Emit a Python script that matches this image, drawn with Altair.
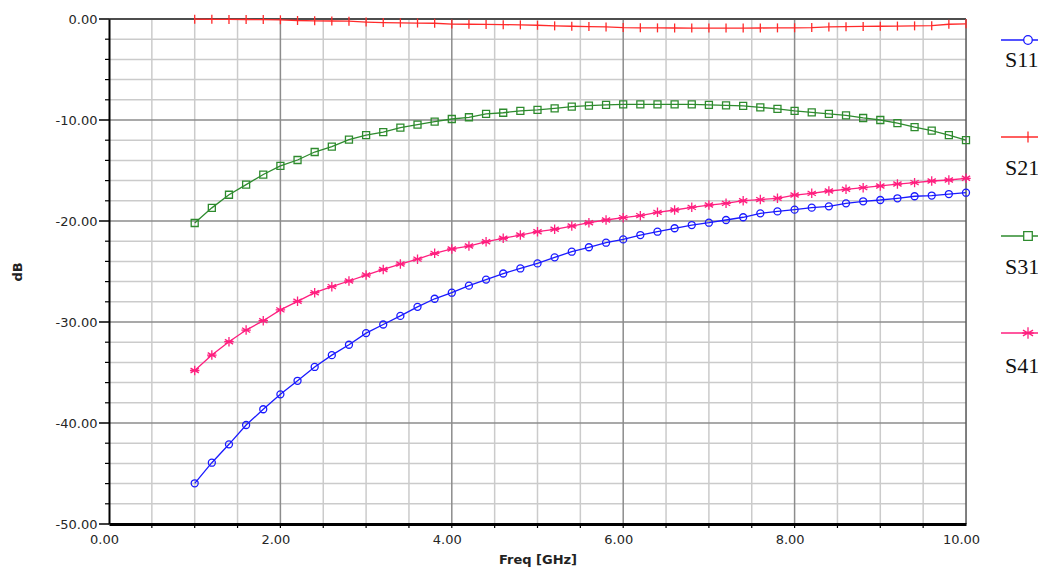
import altair as alt
import pandas as pd

# ---------------- data ----------------
freq = [1.0, 1.2, 1.4, 1.6, 1.8, 2.0, 2.2, 2.4, 2.6, 2.8,
        3.0, 3.2, 3.4, 3.6, 3.8, 4.0, 4.2, 4.4, 4.6, 4.8,
        5.0, 5.2, 5.4, 5.6, 5.8, 6.0, 6.2, 6.4, 6.6, 6.8,
        7.0, 7.2, 7.4, 7.6, 7.8, 8.0, 8.2, 8.4, 8.6, 8.8,
        9.0, 9.2, 9.4, 9.6, 9.8, 10.0]

s11 = [-45.97, -43.93, -42.11, -40.20, -38.64, -37.16, -35.82, -34.45, -33.28, -32.25,
       -31.10, -30.25, -29.40, -28.50, -27.70, -27.10, -26.40, -25.80, -25.20, -24.70,
       -24.20, -23.60, -23.04, -22.60, -22.15, -21.82, -21.39, -21.06, -20.72, -20.40,
       -20.17, -19.90, -19.63, -19.24, -19.05, -18.88, -18.68, -18.55, -18.25, -18.05,
       -17.92, -17.75, -17.55, -17.48, -17.33, -17.20]

s21 = [-0.02, -0.03, -0.04, -0.05, -0.06, -0.08, -0.15, -0.18, -0.20, -0.22,
       -0.30, -0.35, -0.38, -0.40, -0.42, -0.50, -0.52, -0.54, -0.56, -0.58,
       -0.62, -0.68, -0.72, -0.75, -0.78, -0.85, -0.87, -0.88, -0.89, -0.90,
       -0.90, -0.90, -0.90, -0.89, -0.88, -0.87, -0.85, -0.78, -0.76, -0.74,
       -0.72, -0.70, -0.68, -0.66, -0.52, -0.48]

s31 = [-20.20, -18.70, -17.40, -16.40, -15.40, -14.55, -13.96, -13.17, -12.64, -11.95,
       -11.49, -11.20, -10.76, -10.46, -10.17, -9.90, -9.73, -9.40, -9.28, -9.10,
       -9.00, -8.84, -8.67, -8.58, -8.50, -8.45, -8.45, -8.45, -8.45, -8.45,
       -8.50, -8.55, -8.60, -8.75, -8.90, -9.10, -9.25, -9.40, -9.55, -9.80,
       -10.00, -10.30, -10.70, -11.05, -11.50, -12.00]

s41 = [-34.80, -33.27, -31.95, -30.80, -29.87, -28.80, -27.95, -27.10, -26.50, -25.94,
       -25.35, -24.80, -24.26, -23.78, -23.20, -22.77, -22.48, -22.05, -21.71, -21.39,
       -21.06, -20.82, -20.50, -20.17, -19.90, -19.67, -19.47, -19.14, -18.91, -18.65,
       -18.42, -18.25, -17.99, -17.88, -17.75, -17.43, -17.26, -17.03, -16.86, -16.70,
       -16.53, -16.34, -16.20, -16.04, -15.94, -15.77]

series_names = ["S11", "S21", "S31", "S41"]
series_values = [s11, s21, s31, s41]
series_colors = ["#1a1aff", "#ff2a2a", "#2e8b2e", "#ff1f7f"]

x_label_values = [0, 2, 4, 6, 8, 10]
y_label_values = [0, -10, -20, -30, -40, -50]
x_major_grid = [2, 4, 6, 8]
x_minor_grid = [0.5, 1, 1.5, 2.5, 3, 3.5, 4.5, 5, 5.5, 6.5, 7, 7.5, 8.5, 9, 9.5]
y_major_grid = [-10, -20, -30, -40]
y_minor_grid = [-2, -4, -6, -8, -12, -14, -16, -18, -22, -24, -26, -28,
                -32, -34, -36, -38, -42, -44, -46, -48]
x_tick_values = [0.5, 1, 1.5, 2, 2.5, 3, 3.5, 4, 4.5, 5, 5.5, 6, 6.5, 7, 7.5, 8,
                 8.5, 9, 9.5]

# ---------------- layout ----------------
W, H = 857, 505
FONT = "DejaVu Sans"

xs = alt.Scale(domain=[0, 10], nice=False, zero=False)
ys = alt.Scale(domain=[-50, 0], nice=False, zero=False)

label_expr = "replace(format(datum.value, '.2f'), '\u2212', '-')"

x_axis = alt.Axis(values=x_label_values, labelExpr=label_expr, ticks=False, tickSize=0,
                  grid=False, domain=True, domainColor="#000000", domainWidth=3,
                  labelPadding=9, labelOffset=-5, labelFlush=False, labelFont=FONT,
                  labelFontSize=13, labelColor="#262626", title="Freq [GHz]",
                  titleFont=FONT, titleFontSize=13, titleFontWeight="bold",
                  titleColor="#222222", titleY=35, titleBaseline="middle", zindex=1)
y_axis = alt.Axis(values=y_label_values, labelExpr=label_expr, ticks=False, tickSize=0,
                  grid=False, domain=True, domainColor="#000000", domainWidth=2,
                  labelPadding=12, labelFont=FONT, labelFontSize=13,
                  labelColor="#262626", title="dB", titleFont=FONT, titleFontSize=13,
                  titleFontWeight="bold", titleColor="#222222", titleX=-92,
                  titleY=H / 2, titleAngle=270, titleAlign="center",
                  titleBaseline="middle", zindex=1)


def X(field):
    return alt.X(field, scale=xs, axis=x_axis)


def Y(field):
    return alt.Y(field, scale=ys, axis=y_axis)


rows = []
for name, vals in zip(series_names, series_values):
    for f, v in zip(freq, vals):
        rows.append({"freq": f, "value": v, "series": name})
df = pd.DataFrame(rows)

layers = []

# grids
layers.append(alt.Chart(pd.DataFrame({"x": x_minor_grid})).mark_rule(
    color="#cbcbcb", strokeWidth=1.5).encode(x=X("x:Q")))
layers.append(alt.Chart(pd.DataFrame({"y": y_minor_grid})).mark_rule(
    color="#cbcbcb", strokeWidth=1.5).encode(y=Y("y:Q")))
layers.append(alt.Chart(pd.DataFrame({"x": x_major_grid})).mark_rule(
    color="#8c8c8c", strokeWidth=1.5).encode(x=X("x:Q")))
layers.append(alt.Chart(pd.DataFrame({"y": y_major_grid})).mark_rule(
    color="#8c8c8c", strokeWidth=1.5).encode(y=Y("y:Q")))

# frame top and right
layers.append(alt.Chart(pd.DataFrame({"y": [0]})).mark_rule(
    color="#4d4d4d", strokeWidth=2).encode(y=Y("y:Q")))
layers.append(alt.Chart(pd.DataFrame({"x": [10]})).mark_rule(
    color="#5a5a5a", strokeWidth=1.5).encode(x=X("x:Q")))

# ticks
layers.append(alt.Chart(pd.DataFrame({"x": x_tick_values})).mark_rule(
    color="#000000", strokeWidth=1.2).encode(
    x=X("x:Q"), y=alt.value(H), y2=alt.value(H + 4)))
layers.append(alt.Chart(pd.DataFrame({"y": y_minor_grid})).mark_rule(
    color="#000000", strokeWidth=1.2).encode(
    y=Y("y:Q"), x=alt.value(-4), x2=alt.value(0)))
layers.append(alt.Chart(pd.DataFrame({"y": y_major_grid + [0, -50]})).mark_rule(
    color="#000000", strokeWidth=1.5).encode(
    y=Y("y:Q"), x=alt.value(-10), x2=alt.value(0)))

# data lines
layers.append(alt.Chart(df).mark_line(strokeWidth=1.3).encode(
    x=X("freq:Q"),
    y=Y("value:Q"),
    color=alt.Color("series:N", scale=alt.Scale(domain=series_names, range=series_colors),
                    legend=None),
    detail="series:N"))

shapes = ["circle", "M0,-1L0,1", "square",
          "M0,-1L0,1M-0.87,-0.5L0.87,0.5M-0.87,0.5L0.87,-0.5M-1,0L1,0"]
sizes = [49, 81, 49, 90]

for name, col, shp, sz in zip(series_names, series_colors, shapes, sizes):
    layers.append(alt.Chart(df[df["series"] == name]).mark_point(
        shape=shp, size=sz, filled=False, color=col, strokeWidth=1.3, opacity=1).encode(
        x=X("freq:Q"), y=Y("value:Q")))

# custom legend (line + marker above, label below)
legend_line_y = [21, 118, 217, 314]
legend_text_y = [41, 149, 248, 347]
for name, col, shp, sz, ly, ty in zip(series_names, series_colors, shapes, sizes,
                                      legend_line_y, legend_text_y):
    ldf = pd.DataFrame({"name": [name]})
    layers.append(alt.Chart(ldf).mark_rule(color=col, strokeWidth=1.3).encode(
        x=alt.value(892), x2=alt.value(945), y=alt.value(ly)))
    layers.append(alt.Chart(ldf).mark_point(
        shape=shp, size=sz * 1.5, filled=False, color=col,
        strokeWidth=1.3, opacity=1, fill="white").encode(
        x=alt.value(919), y=alt.value(ly)))
    layers.append(alt.Chart(ldf).mark_text(
        font="Liberation Serif", fontSize=22, align="left", baseline="middle",
        color="#111111").encode(x=alt.value(896), y=alt.value(ty), text="name:N"))

chart = alt.layer(*layers).properties(
    width=W, height=H,
    padding={"left": 101, "top": 11, "right": 72, "bottom": 46},
    autosize=alt.AutoSizeParams(type="none"),
).configure_view(stroke=None).configure(background="white")

chart.save("out.html", embed_options={"renderer": "svg", "actions": False})
